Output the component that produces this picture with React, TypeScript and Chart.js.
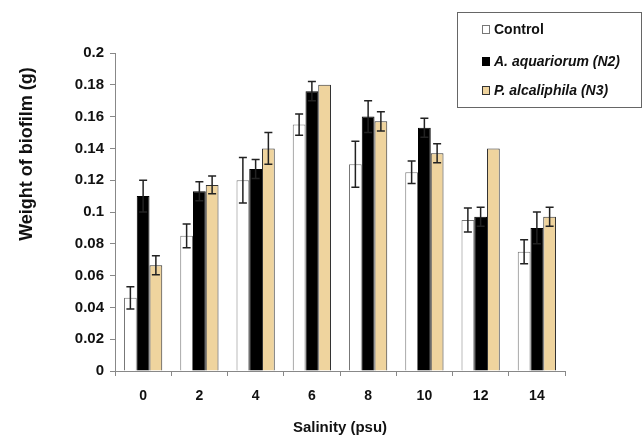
import React, { useEffect, useRef } from "react";
import { Chart, registerables } from "chart.js";

Chart.register(...registerables);

const categories = ["0", "2", "4", "6", "8", "10", "12", "14"];
const controlValues = [0.046, 0.085, 0.12, 0.155, 0.13, 0.125, 0.095, 0.075];
const controlErrors = [0.007, 0.0075, 0.0143, 0.0067, 0.0145, 0.007, 0.0075, 0.0075];
const n2Values = [0.11, 0.113, 0.127, 0.176, 0.16, 0.153, 0.097, 0.09];
const n2Errors = [0.01, 0.006, 0.006, 0.006, 0.01, 0.006, 0.006, 0.01];
const n3Values = [0.0665, 0.117, 0.14, 0.18, 0.157, 0.137, 0.14, 0.097];
const n3Errors = [0.006, 0.0056, 0.01, 0, 0.006, 0.006, 0, 0.006];
const seriesLabels = ["Control", "A. aquariorum (N2)", "P. alcaliphila (N3)"];
const yTitle = "Weight of biofilm (g)";
const xTitle = "Salinity (psu)";

const FONT = "'Liberation Sans', Arial, sans-serif";

export default function App() {
  const ref = useRef<HTMLCanvasElement | null>(null);

  useEffect(() => {
    document.body.style.margin = "0";
    const canvas = ref.current;
    if (!canvas) return;
    const errs = [controlErrors, n2Errors, n3Errors];

    const errorBars = {
      id: "errorBars",
      afterDatasetsDraw(chart: any) {
        const ctx = chart.ctx;
        const y = chart.scales.y;
        ctx.save();
        ctx.strokeStyle = "#222";
        ctx.lineWidth = 1.5;
        chart.data.datasets.forEach((ds: any, i: number) => {
          const meta = chart.getDatasetMeta(i);
          meta.data.forEach((bar: any, j: number) => {
            const e = errs[i][j];
            if (!e) return;
            const v = ds.data[j];
            const x = bar.x;
            const yt = y.getPixelForValue(v + e);
            const yb = y.getPixelForValue(v - e);
            ctx.beginPath();
            ctx.moveTo(x, yt);
            ctx.lineTo(x, yb);
            ctx.moveTo(x - 4, yt);
            ctx.lineTo(x + 4, yt);
            ctx.moveTo(x - 4, yb);
            ctx.lineTo(x + 4, yb);
            ctx.stroke();
          });
        });
        ctx.restore();
      },
    };

    const extras = {
      id: "extras",
      afterDraw(chart: any) {
        const ctx = chart.ctx;
        ctx.save();
        // y-axis title
        ctx.translate(27, 154);
        ctx.rotate(-Math.PI / 2);
        ctx.fillStyle = "#111";
        ctx.font = "bold 18px " + FONT;
        ctx.textAlign = "center";
        ctx.textBaseline = "middle";
        ctx.fillText(yTitle, 0, 0);
        ctx.restore();

        // legend
        ctx.save();
        const bx = 457, by = 12, bw = 184, bh = 95;
        ctx.fillStyle = "#fff";
        ctx.fillRect(bx, by, bw, bh);
        ctx.strokeStyle = "#666";
        ctx.lineWidth = 1;
        ctx.strokeRect(bx + 0.5, by + 0.5, bw, bh);
        const rows = [30, 62, 91];
        chart.data.datasets.forEach((ds: any, i: number) => {
          const ly = rows[i];
          ctx.fillStyle = ds.backgroundColor;
          ctx.fillRect(482, ly - 5, 8, 9);
          ctx.strokeStyle = ds.borderColor;
          ctx.lineWidth = 1;
          ctx.strokeRect(482.5, ly - 4.5, 7, 8);
          ctx.fillStyle = "#111";
          ctx.textBaseline = "middle";
          ctx.textAlign = "left";
          ctx.font = (i === 0 ? "bold " : "italic bold ") + "14px " + FONT;
          ctx.fillText(ds.label, 494, ly);
        });
        ctx.restore();
      },
    };

    const chart = new Chart(canvas, {
      type: "bar",
      data: {
        labels: categories,
        datasets: [
          {
            label: seriesLabels[0],
            data: controlValues,
            backgroundColor: "#ffffff",
            borderColor: "#777777",
            borderWidth: 1,
          },
          {
            label: seriesLabels[1],
            data: n2Values,
            backgroundColor: "#000000",
            borderColor: "#000000",
            borderWidth: 1,
          },
          {
            label: seriesLabels[2],
            data: n3Values,
            backgroundColor: "#efd49e",
            borderColor: "#333333",
            borderWidth: 1,
          },
        ],
      },
      options: {
        animation: false,
        responsive: false,
        maintainAspectRatio: false,
        layout: { padding: { left: 0, top: 53, right: 77, bottom: 0 } },
        datasets: { bar: { categoryPercentage: 0.68, barPercentage: 1.0 } },
        plugins: {
          legend: { display: false },
          tooltip: { enabled: false },
        },
        scales: {
          x: {
            offset: true,
            grid: {
              drawOnChartArea: false,
              offset: true,
              color: "#888",
              tickLength: 5,
              tickColor: "#888",
            },
            border: { color: "#888", width: 1 },
            ticks: {
              color: "#111",
              font: { family: FONT, size: 14, weight: "bold" },
              padding: 12,
            },
            title: {
              display: true,
              text: xTitle,
              color: "#111",
              font: { family: FONT, size: 15, weight: "bold" },
              padding: { top: 6, bottom: 0 },
            },
            afterFit(scale: any) {
              scale.height = 66;
            },
          },
          y: {
            min: 0,
            max: 0.2,
            ticks: {
              stepSize: 0.02,
              color: "#111",
              font: { family: FONT, size: 15, weight: "bold" },
              padding: 6,
              callback: (v: any) => String(Math.round(Number(v) * 100) / 100),
            },
            grid: {
              drawOnChartArea: false,
              color: "#888",
              tickLength: 5,
              tickColor: "#888",
            },
            border: { color: "#888", width: 1 },
            title: { display: false },
            afterFit(scale: any) {
              scale.width = 115;
            },
          },
        },
      },
      plugins: [errorBars, extras],
    } as any);

    return () => chart.destroy();
  }, []);

  return (
    <div style={{ width: 642, height: 437, background: "#fff" }}>
      <canvas ref={ref} width={642} height={437} style={{ display: "block" }} />
    </div>
  );
}
